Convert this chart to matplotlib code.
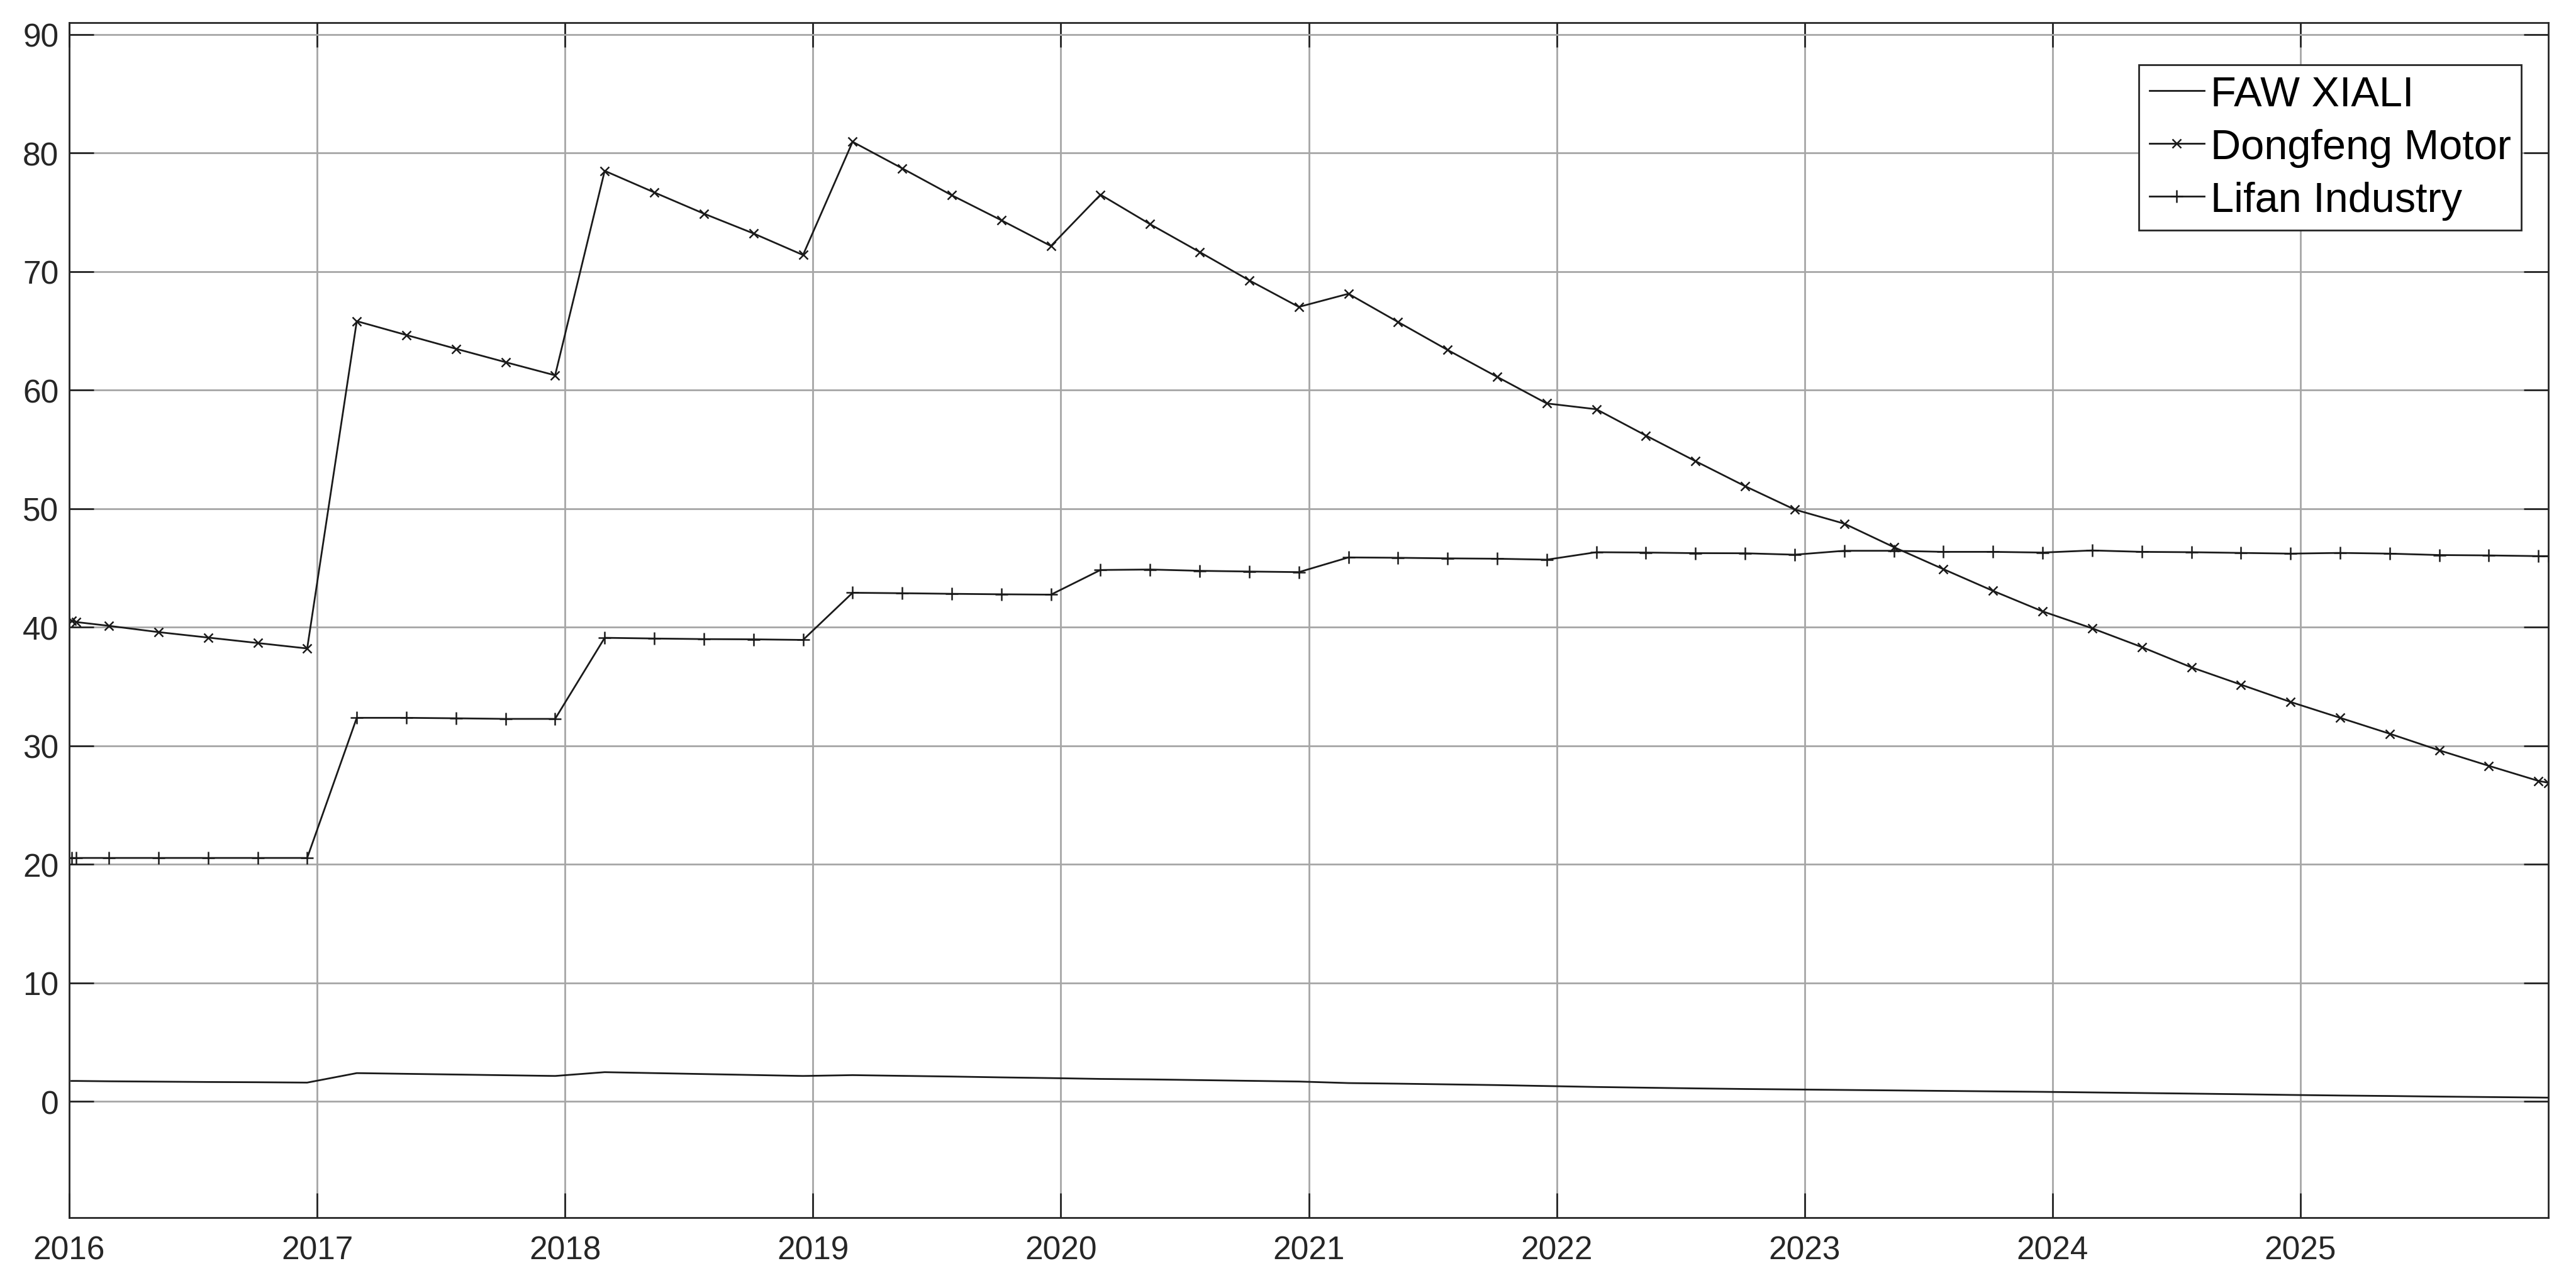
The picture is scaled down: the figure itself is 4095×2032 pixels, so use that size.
import numpy as np
import matplotlib.pyplot as plt

plt.rcParams['font.family'] = ['Liberation Sans', 'DejaVu Sans']

# decimal years of the sampled points
years = [2016.009, 2016.028, 2016.16, 2016.36, 2016.56, 2016.76, 2016.96,
         2017.16, 2017.36, 2017.56, 2017.76, 2017.96,
         2018.16, 2018.36, 2018.56, 2018.76, 2018.96,
         2019.16, 2019.36, 2019.56, 2019.76, 2019.96,
         2020.16, 2020.36, 2020.56, 2020.76, 2020.96,
         2021.16, 2021.36, 2021.56, 2021.76, 2021.96,
         2022.16, 2022.36, 2022.56, 2022.76, 2022.96,
         2023.16, 2023.36, 2023.56, 2023.76, 2023.96,
         2024.16, 2024.36, 2024.56, 2024.76, 2024.96,
         2025.16, 2025.36, 2025.56, 2025.76, 2025.96, 2026.0]

faw_xiali = [1.73, 1.73, 1.70, 1.67, 1.64, 1.62, 1.59,
             2.39, 2.33, 2.27, 2.21, 2.15,
             2.47, 2.39, 2.31, 2.23, 2.15,
             2.22, 2.16, 2.10, 2.03, 1.97,
             1.90, 1.86, 1.80, 1.74, 1.68,
             1.55, 1.50, 1.44, 1.38, 1.30,
             1.22, 1.16, 1.10, 1.05, 1.01,
             0.97, 0.93, 0.89, 0.85, 0.81,
             0.76, 0.71, 0.66, 0.61, 0.55,
             0.50, 0.46, 0.41, 0.37, 0.33, 0.32]

dongfeng = [40.56, 40.44, 40.12, 39.59, 39.13, 38.67, 38.21,
            65.82, 64.65, 63.49, 62.36, 61.25,
            78.50, 76.68, 74.89, 73.22, 71.40,
            80.95, 78.71, 76.44, 74.33, 72.16,
            76.49, 74.00, 71.65, 69.26, 67.02,
            68.13, 65.75, 63.39, 61.12, 58.88,
            58.39, 56.17, 54.01, 51.90, 49.93,
            48.74, 46.76, 44.90, 43.07, 41.34,
            39.91, 38.33, 36.62, 35.16, 33.70,
            32.36, 31.02, 29.62, 28.31, 27.04, 26.88]

lifan = [20.54, 20.54, 20.54, 20.54, 20.54, 20.54, 20.54,
         32.36, 32.36, 32.32, 32.27, 32.27,
         39.11, 39.05, 39.00, 38.98, 38.93,
         42.91, 42.87, 42.82, 42.78, 42.75,
         44.83, 44.87, 44.76, 44.70, 44.65,
         45.89, 45.86, 45.81, 45.78, 45.70,
         46.33, 46.30, 46.25, 46.24, 46.12,
         46.45, 46.45, 46.36, 46.36, 46.30,
         46.48, 46.36, 46.33, 46.27, 46.21,
         46.27, 46.21, 46.09, 46.06, 46.00, 46.00]

year_ticks = list(range(2016, 2026))
value_ticks = list(range(0, 100, 10))

fig = plt.figure(figsize=(20.475, 10.165), dpi=200)
ax = fig.add_axes([0.02686, 0.04722, 0.9624, 0.93458])

ax.plot(years, faw_xiali, color='#1a1a1a', lw=1.0, label='FAW XIALI')
ax.plot(years, dongfeng, color='#1a1a1a', lw=1.0, marker='x', ms=5,
        mew=0.9, label='Dongfeng Motor')
ax.plot(years, lifan, color='#1a1a1a', lw=1.0, marker='+', ms=7,
        mew=0.9, label='Lifan Industry')

ax.set_xlim(2016, 2026)
ax.set_ylim(-9.8, 91)
ax.set_xticks(year_ticks)
ax.set_xticklabels([str(y) for y in year_ticks])
ax.set_yticks(value_ticks)

ax.grid(True, color='#a6a6a6', lw=1.0)
ax.set_axisbelow(True)
for sp in ax.spines.values():
    sp.set_color('#262626')
    sp.set_linewidth(1.0)

ax.tick_params(direction='in', length=14, width=1.0, colors='#262626',
               top=True, right=True, labelsize=18.5)
ax.tick_params(axis='x', pad=10)
ax.tick_params(axis='y', pad=6)

leg = ax.legend(loc='upper right', bbox_to_anchor=(0.9788, 0.9488),
                bbox_transform=fig.transFigure, borderaxespad=0,
                fontsize=24, handlelength=1.3, handletextpad=0.15,
                labelspacing=0.33, borderpad=0.25, fancybox=False,
                framealpha=1, edgecolor='#262626')
leg.get_frame().set_linewidth(1.0)

fig.savefig('out.png', dpi=200)
